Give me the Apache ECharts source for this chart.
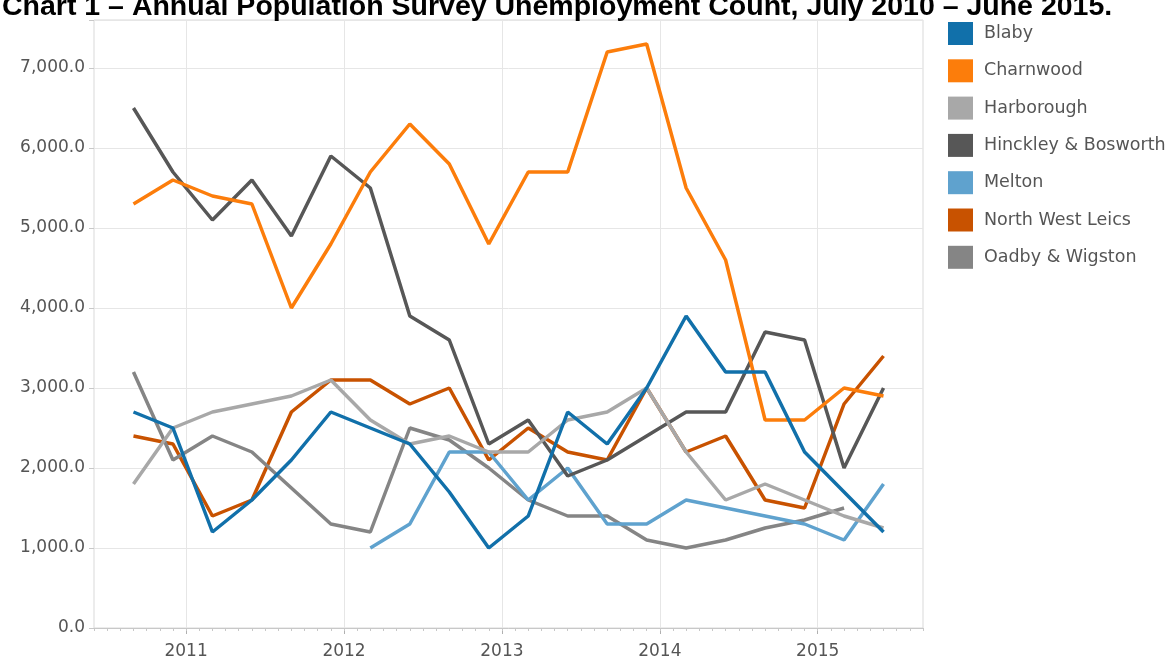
<!DOCTYPE html>
<html>
<head>
<meta charset="utf-8">
<script src="https://cdn.jsdelivr.net/npm/echarts@6/dist/echarts.min.js"></script>
<style>
  html, body { margin: 0; padding: 0; background: #fff; }
  #chart { width: 1174px; height: 661px; }
</style>
</head>
<body>
<div id="chart"></div>
<script>
// quarterly APS periods, plotted at Sep 2010, Dec 2010 ... Jun 2015
const districts = ['Blaby', 'Charnwood', 'Harborough', 'Hinckley & Bosworth', 'Melton', 'North West Leics', 'Oadby & Wigston'];
const blaby      = [2700, 2500, 1200, 1600, 2100, 2700, 2500, 2300, 1700, 1000, 1400, 2700, 2300, 3000, 3900, 3200, 3200, 2200, 1700, 1200];
const charnwood  = [5300, 5600, 5400, 5300, 4000, 4800, 5700, 6300, 5800, 4800, 5700, 5700, 7200, 7300, 5500, 4600, 2600, 2600, 3000, 2900];
const harborough = [1800, 2500, 2700, 2800, 2900, 3100, 2600, 2300, 2400, 2200, 2200, 2600, 2700, 3000, 2200, 1600, 1800, 1600, 1400, 1250];
const hinckley   = [6500, 5700, 5100, 5600, 4900, 5900, 5500, 3900, 3600, 2300, 2600, 1900, 2100, 2400, 2700, 2700, 3700, 3600, 2000, 3000];
const melton     = [null, null, null, null, null, null, 1000, 1300, 2200, 2200, 1600, 2000, 1300, 1300, 1600, 1500, 1400, 1300, 1100, 1800];
const nwLeics    = [2400, 2300, 1400, 1600, 2700, 3100, 3100, 2800, 3000, 2100, 2500, 2200, 2100, 3000, 2200, 2400, 1600, 1500, 2800, 3400];
const oadby      = [3200, 2100, 2400, 2200, 1750, 1300, 1200, 2500, 2350, 2000, 1600, 1400, 1400, 1100, 1000, 1100, 1250, 1350, 1500, null];

const colors = ['#1170aa', '#fc7d0b', '#a8a8a8', '#575757', '#5fa2ce', '#c85200', '#858585'];
const values = [blaby, charnwood, harborough, hinckley, melton, nwLeics, oadby];
// drawing order (last on top)
const drawOrder = [5, 6, 4, 3, 2, 1, 0];

// monthly category axis Jun 2010 .. Sep 2015
const months = [];
for (let y = 2010, m = 6; y < 2015 || m <= 9; ) {
  months.push(y + '-' + String(m).padStart(2, '0'));
  m++;
  if (m > 12) { m = 1; y++; }
}
const firstPoint = months.indexOf('2010-09');

function toMonthly(vals) {
  const out = months.map(() => null);
  vals.forEach((v, i) => { out[firstPoint + 3 * i] = v; });
  return out;
}
const isJan = (i) => months[i].endsWith('-01');

const fontFamily = 'DejaVu Sans';
const myChart = echarts.init(document.getElementById('chart'));

const option = {
  backgroundColor: '#fff',
  animation: false,
  title: {
    text: 'Chart 1 \u2013 Annual Population Survey Unemployment Count, July 2010 \u2013 June 2015.',
    left: -3,
    top: -12,
    textStyle: { fontFamily: 'Liberation Sans', fontWeight: 'bold', fontSize: 28.5, color: '#000' }
  },
  legend: {
    orient: 'vertical',
    left: 943,
    top: 17,
    itemWidth: 25,
    itemHeight: 23,
    itemGap: 14.3,
    icon: 'rect',
    data: districts,
    textStyle: { fontFamily: fontFamily, fontSize: 17.5, color: '#555', padding: [0, 0, 0, 6] }
  },
  grid: {
    left: 94, right: 251, top: 20, bottom: 33,
    show: true, borderColor: '#d9d9d9', borderWidth: 1
  },
  xAxis: [
    {
      type: 'category',
      data: months,
      boundaryGap: false,
      axisLine: { lineStyle: { color: '#c8c8c8' } },
      axisTick: { interval: isJan, length: 6, lineStyle: { color: '#b0b0b0' } },
      axisLabel: {
        interval: isJan,
        formatter: (v) => v.slice(0, 4),
        fontFamily: fontFamily, fontSize: 17, color: '#555', margin: 15
      },
      splitLine: { show: true, interval: isJan, lineStyle: { color: '#e6e6e6' } }
    },
    {
      type: 'category',
      data: months,
      boundaryGap: false,
      position: 'bottom',
      axisLine: { show: false },
      axisTick: { interval: 0, length: 3, lineStyle: { color: '#c8c8c8' } },
      axisLabel: { show: false },
      splitLine: { show: false }
    }
  ],
  yAxis: {
    type: 'value',
    min: 0,
    max: 7600,
    interval: 1000,
    axisLine: { show: false },
    axisTick: { show: true, length: 5, lineStyle: { color: '#c8c8c8' } },
    axisLabel: {
      formatter: (v) => v > 7000 ? '' : v.toLocaleString('en-US', { minimumFractionDigits: 1, maximumFractionDigits: 1 }),
      fontFamily: fontFamily, fontSize: 17, color: '#555', margin: 9
    },
    splitLine: { lineStyle: { color: '#e6e6e6' } }
  },
  series: drawOrder.map((k) => ({
    name: districts[k],
    type: 'line',
    xAxisIndex: 0,
    data: toMonthly(values[k]),
    connectNulls: true,
    showSymbol: false,
    symbol: 'none',
    color: colors[k],
    lineStyle: { width: 3.5, color: colors[k] }
  }))
};

option && myChart.setOption(option);
</script>
</body>
</html>
